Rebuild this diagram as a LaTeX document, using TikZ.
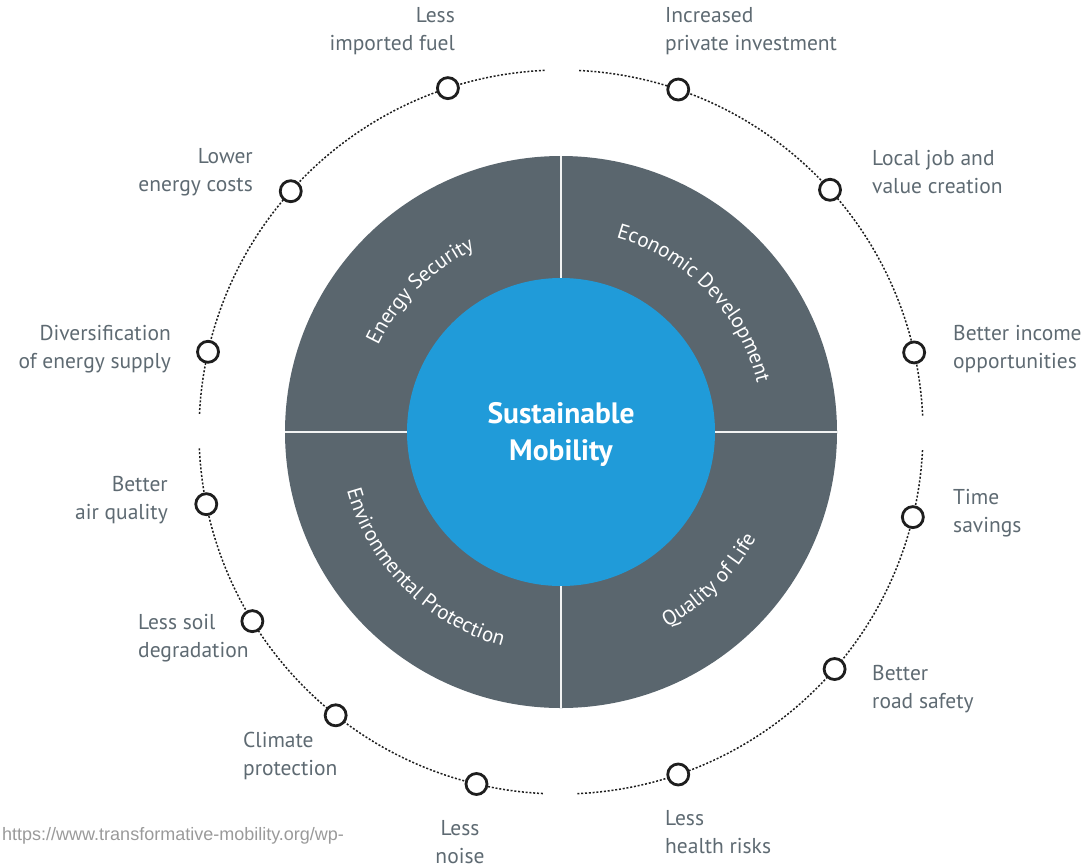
\documentclass[tikz,border=0pt]{standalone}
\usepackage{fontspec}
\setmainfont{PT Sans}
\setsansfont{PT Sans}
\newfontfamily\urlfont{Liberation Sans}
\usetikzlibrary{decorations.text}
\definecolor{sectorgray}{HTML}{5A666E}
\definecolor{hubblue}{HTML}{209BD9}
\definecolor{labelgray}{HTML}{5E6A72}
\definecolor{ringdark}{HTML}{1E1E1E}
\definecolor{urlgray}{HTML}{9A9A9A}
\newcommand{\sectorfont}{\fontsize{21}{24}\selectfont}
\begin{document}
\begin{tikzpicture}[x=1pt,y=1pt,
  ring/.style={draw=ringdark, line width=1.5pt, dash pattern=on 2pt off 1.8pt},
  dot/.style={circle, draw=ringdark, line width=2.8pt, fill=white, minimum size=21pt, inner sep=0pt},
  lbl/.style={text=labelgray, font=\fontsize{21.5}{28}\selectfont, inner sep=0pt},
  divider/.style={draw=white!92!sectorgray, line width=1.6pt},
  arctext/.style={decorate, decoration={text along path, text align=center, text color=white}}
]
\useasboundingbox (0,0) rectangle (1089,-865);
\coordinate (C) at (561,-432);

% dotted ring with gaps
\foreach \a in {0,90,180,270}{
  \draw[ring] (C) ++(\a+2.6:362) arc (\a+2.6:\a+87.4:362);
}

% sectors
\fill[sectorgray] (C) circle (276);
\node[circle, fill=hubblue, minimum size=308pt, inner sep=0pt] (hub) at (C) {};
\foreach \a in {0,90,180,270}{
  \draw[divider] (hub.\a) -- ++(\a:122);
}
\node[font=\bfseries\fontsize{29.5}{37}\selectfont, text=white, align=center] (title) at (561,-434) {Sustainable\\Mobility};

% sector labels along arcs
\path[arctext, decoration={text={|\sectorfont|Energy Security}}] (C) ++(175:202) arc (175:95:202);
\path[arctext, decoration={text={|\sectorfont|Economic Development}}] (C) ++(84:202) arc (84:4:202);
\path[arctext, decoration={text={|\sectorfont|Environmental Protection}}] (C) ++(185:222) arc (185:265:222);
\path[arctext, decoration={text={|\sectorfont|Quality of Life}}] (C) ++(-86:222) arc (-86:-4:222);

% small circles on ring
\path (C) ++(108.2:362) node[dot] (c1) {};
\path (C) ++(71.1:362) node[dot] (c2) {};
\path (C) ++(138.3:362) node[dot] (c3) {};
\path (C) ++(42:362) node[dot] (c4) {};
\path (C) ++(167.2:362) node[dot] (c5) {};
\path (C) ++(12.7:362) node[dot] (c6) {};
\path (C) ++(191.5:362) node[dot] (c7) {};
\path (C) ++(-13.6:362) node[dot] (c8) {};
\path (C) ++(211.5:362) node[dot] (c9) {};
\path (C) ++(-40.9:362) node[dot] (c10) {};
\path (C) ++(231.5:362) node[dot] (c11) {};
\path (C) ++(256.5:362) node[dot] (c12) {};
\path (C) ++(-71.1:362) node[dot] (c13) {};

% labels
\node[lbl, anchor=east, align=right] (t1) at (455,-31) {Less\\imported fuel};
\node[lbl, anchor=west, align=left] (t2) at (665,-31) {Increased\\private investment};
\node[lbl, anchor=east, align=right] (t3) at (253,-172) {Lower\\energy costs};
\node[lbl, anchor=west, align=left] (t4) at (872,-172) {Local job and\\value creation};
\node[lbl, anchor=east, align=right] (t5) at (171,-349) {Diversification\\of energy supply};
\node[lbl, anchor=west, align=left] (t6) at (953,-349) {Better income\\opportunities};
\node[lbl, anchor=east, align=right] (t7) at (168,-500) {Better\\air quality};
\node[lbl, anchor=west, align=left] (t8) at (953,-513) {Time\\savings};
\node[lbl, anchor=west, align=left] (t9) at (138,-638) {Less soil\\degradation};
\node[lbl, anchor=west, align=left] (t10) at (872,-689) {Better\\road safety};
\node[lbl, anchor=west, align=left] (t11) at (243,-756) {Climate\\protection};
\node[lbl, anchor=center, align=center] (t12) at (460,-842) {Less\\noise};
\node[lbl, anchor=west, align=left] (t13) at (665,-832) {Less\\health risks};

% source
\node[anchor=west, inner sep=0pt, text=urlgray, font=\urlfont\fontsize{18}{20}\selectfont] (src) at (2,-836) {https://www.transformative-mobility.org/wp-};
\end{tikzpicture}
\end{document}
